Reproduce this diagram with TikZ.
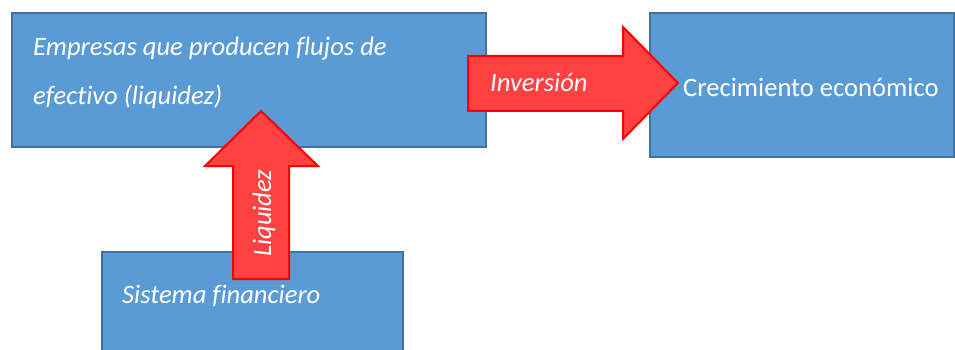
\documentclass[tikz,border=0pt]{standalone}
\usepackage{fontspec}
\setmainfont{Carlito}[Ligatures=NoCommon]
\usepackage{xcolor}
\definecolor{cajaazul}{HTML}{5B9BD5}
\definecolor{bordeazul}{HTML}{41719C}
\definecolor{flecharoja}{HTML}{FF4141}

\begin{document}
\begin{tikzpicture}[x=1pt,y=-1pt,
    caja/.style={draw=bordeazul, line width=2pt, fill=cajaazul, anchor=north west, inner sep=0pt},
    flecha/.style={draw=red, line width=2pt, fill=flecharoja, line join=miter},
    texto/.style={text=white, inner sep=0pt, anchor=base west, font=\fontsize{26.6}{49}\selectfont}]
        \useasboundingbox (0,0) rectangle (955,350);
        % Cajas
        \node[caja, minimum width=474, minimum height=134] (empresas) at (11,12) {};
        \node[caja, minimum width=304, minimum height=144] (crecimiento) at (649,12) {};
        \node[caja, minimum width=301, minimum height=120] (sistema) at (101,251) {};
        % Flecha de inversion (hacia la derecha)
        \draw[flecha] (468,56) -- (623,56) -- (623,27) -- (678,83) -- (623,139) -- (623,111) -- (468,111) -- cycle;
        % Flecha de liquidez (hacia arriba)
        \draw[flecha] (233,279) -- (233,166) -- (205,166) -- (261,111) -- (318,166) -- (289,166) -- (289,279) -- cycle;
        % Textos
        \node[texto] (empresasA) at (33,56) {\itshape Empresas que producen flujos de};
        \node[texto] (empresasB) at (33,105) {\itshape efectivo (liquidez)};
        \node[texto] (inversion) at (490,92) {\itshape Inversión};
        \node[texto] (crecimientoT) at (683,97) {Crecimiento económico};
        \node[texto] (sistemaT) at (122,303) {\itshape Sistema financiero};
        \node[texto, rotate=90] (liquidez) at (271,257) {\itshape Liquidez};
\end{tikzpicture}
\end{document}
